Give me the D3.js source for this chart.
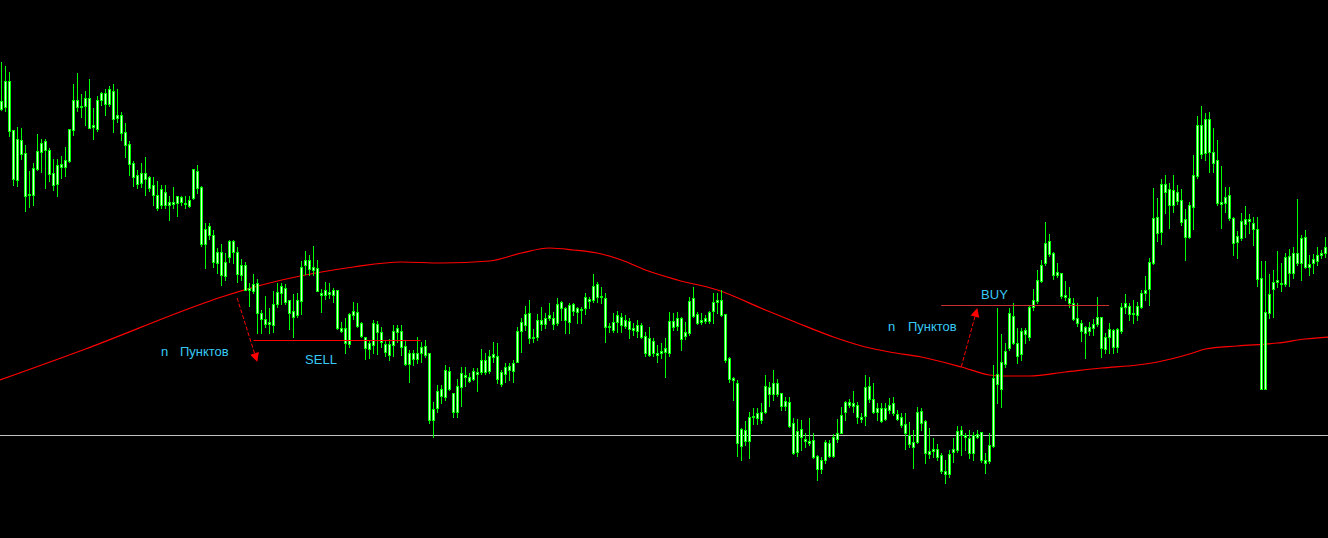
<!DOCTYPE html>
<html>
<head>
<meta charset="utf-8">
<script src="https://cdn.jsdelivr.net/npm/d3@7"></script>
<style>
html,body{margin:0;padding:0;background:#000;overflow:hidden}
svg{display:block}
</style>
</head>
<body>
<svg width="1328" height="538"></svg>
<script>
// candles, one per bar, prices in points
const opens = [
891,919,919,870,820,860,847,805,805,831, 848,859,850,815,816,833,833,839,870,900,
893,902,902,873,871,907,896,911,909,885, 885,868,856,837,816,817,827,823,815,792,
811,808,795,796,804,803,796,794,802,829, 813,756,774,765,748,748,724,743,759,748,
735,735,710,716,717,687,681,676,675,696, 714,712,700,683,685,699,740,740,733,732,
705,710,706,710,710,672,657,656,689,688, 677,663,651,655,676,668,656,645,655,672,
669,654,636,647,641,653,654,647,580,592, 604,603,629,588,588,613,625,619,621,626,
628,628,629,646,644,616,626,630,629,638, 669,686,687,662,663,676,676,685,676,677,
698,680,678,696,688,690,692,699,700,716, 704,702,673,670,685,683,680,679,670,675,
675,664,662,659,645,647,648,647,673,682, 682,664,667,702,686,678,679,679,689,698,
700,686,642,622,617,554,559,559,583,582, 580,588,606,617,617,607,599,598,577,548,
571,561,559,560,544,531,540,544,544,561, 567,588,598,597,595,581,584,614,601,592,
579,581,590,597,586,583,576,565,553,558, 589,579,546,551,551,545,526,526,548,550,
570,565,547,547,566,568,537,539,554,616, 611,636,652,684,644,646,666,663,693,699,
719,737,759,747,728,727,705,702,697,682, 677,667,669,672,683,683,651,671,653,653,
669,697,694,686,685,693,707,711,737,767, 768,816,811,795,808,800,763,763,793,824,
846,847,881,848,840,796,797,805,782,758, 762,776,781,777,771,722,611,687,711,720,
716,716,727,727,737,737,763,733,737,739, 745,747]
const highs = [
938,934,928,870,873,872,855,829,837,866, 861,861,852,841,841,844,853,871,916,927,
906,909,921,892,904,908,911,914,916,911, 888,877,859,839,830,837,843,824,823,819,
815,815,804,813,804,804,804,804,831,835, 814,777,777,770,752,756,747,760,760,753,
741,738,717,726,721,690,704,692,709,717, 717,716,700,706,707,739,749,745,754,740,
711,718,717,712,710,678,682,687,698,697, 678,663,659,680,679,673,660,661,675,675,
675,660,650,650,663,658,660,647,598,615, 615,635,633,607,621,633,633,627,632,632,
651,647,650,658,657,630,637,637,640,673, 682,694,700,671,686,693,687,697,688,702,
699,693,697,697,693,693,707,703,726,718, 713,707,677,687,689,687,685,682,677,680,
677,668,673,662,655,657,662,688,687,688, 683,678,703,713,688,687,685,689,707,707,
710,686,643,623,620,572,579,588,592,592, 597,625,618,630,621,607,603,603,582,581,
580,567,582,567,545,543,560,560,566,581, 593,599,601,609,598,587,625,623,617,597,
597,597,602,603,590,587,587,578,570,593, 592,580,572,562,556,547,540,550,562,574,
574,567,570,568,570,568,547,567,635,692, 666,657,692,697,672,672,672,695,711,730,
740,778,766,748,737,727,719,713,702,697, 680,674,678,681,703,683,667,677,671,672,
697,706,697,700,698,710,724,742,812,802, 821,825,817,825,815,811,791,798,845,884,
894,887,888,872,860,834,813,813,783,769, 787,794,786,783,783,739,739,726,730,749,
737,747,751,753,801,765,770,745,746,753, 750,763]
const lows = [
890,889,864,815,814,841,789,793,795,830, 828,812,819,810,804,822,824,838,865,889,
883,875,872,861,869,895,885,894,868,878, 860,843,825,814,812,813,805,809,795,790,
792,792,780,792,784,795,792,793,801,807, 754,732,761,733,727,715,720,738,737,718,
720,710,694,707,667,667,673,667,668,693, 696,696,671,663,683,686,726,725,725,709,
688,701,702,698,671,668,647,653,681,673, 663,641,642,647,646,653,644,640,644,658,
645,635,618,635,637,638,643,577,563,588, 597,600,610,583,583,594,614,618,620,609,
626,626,627,638,617,614,618,620,618,638, 648,670,657,658,660,670,672,680,671,675,
680,667,667,685,677,677,686,692,698,698, 697,658,668,668,668,668,672,662,665,663,
662,644,644,644,638,642,623,644,670,670, 650,661,665,683,676,676,677,677,677,687,
684,638,618,600,544,540,555,542,576,576, 577,587,594,600,604,590,590,573,546,544,
550,553,555,542,520,527,537,543,543,558, 567,580,593,588,577,578,575,598,587,580,
578,580,587,585,580,573,551,553,532,557, 570,537,542,543,540,527,517,523,538,548,
545,550,542,540,562,538,527,537,553,597, 593,633,650,656,637,640,657,660,690,697,
718,735,744,721,723,702,700,693,680,674, 659,642,665,665,674,643,647,647,647,648,
667,687,680,677,680,692,700,695,736,759, 756,787,772,788,796,775,740,762,771,822,
842,840,828,828,795,772,788,780,745,742, 760,763,767,755,714,611,611,682,683,713,
709,714,714,722,735,720,732,725,727,735, 742,743]
const closes = [
899,893,869,821,861,846,804,806,832,849, 857,850,826,827,835,836,840,871,900,893,
894,894,872,875,900,900,907,896,881,882, 867,855,836,823,825,827,821,812,805,805,
795,795,798,798,797,798,797,800,831,812, 756,771,765,738,737,725,738,759,748,726,
725,710,712,709,687,681,676,678,696,708, 707,698,687,689,700,733,735,731,730,709,
707,705,708,705,672,669,672,686,685,674, 664,652,657,677,668,658,648,656,669,668,
653,636,647,641,647,647,645,580,591,609, 611,630,611,607,614,627,623,623,629,628,
640,640,644,643,621,628,633,634,637,669, 678,675,662,663,680,680,682,682,682,696,
692,692,695,689,692,691,703,701,714,703, 703,673,674,678,678,675,674,671,672,669,
663,647,645,647,647,649,652,679,679,674, 661,668,699,684,677,680,682,688,698,700,
685,640,621,620,557,571,570,583,584,587, 588,614,613,606,606,594,594,574,547,569,
563,559,557,543,531,540,558,557,563,567, 585,598,595,594,583,583,613,601,588,588,
592,592,595,587,581,575,567,556,558,588, 577,547,549,549,543,529,529,546,551,569,
565,563,562,565,563,540,540,555,622,626, 638,649,687,657,657,669,670,693,700,720,
735,757,746,725,725,704,703,697,681,677, 669,673,673,676,676,652,663,663,670,671,
693,693,686,687,694,707,710,738,782,783, 816,808,795,810,799,778,781,795,825,875,
875,881,848,837,797,798,803,782,757,764, 779,781,779,771,721,611,688,706,718,718,
717,743,744,747,747,762,733,736,741,745, 747,753]

// moving average, read at some bars
const maBars = [-0.4,21,50,55,68,80,88,100,110,122,130,137,143,150,155,161,169,179,191,199,208,216,222,230,240,247,250,257,266,275,284,289,297,301,309,319,326,332]
const maValues = [620,651,696,703,718,728,733,738,737,739,747,752,750,746,740,730,720,710,690,677,663,653,648,643,633,625,624,624,628,632,635,638,646,651,654,657,661,663]

const levelPrice = 565
const sellLevel = {from: 63, to: 104.75, price: 660}
const buyLevel = {from: 234.9, to: 276.9, price: 695}
const arrows = [
	{from: [58.9, 702], to: [63.95, 638]},
	{from: [239.95, 633.3], to: [243.95, 692]}
]
const labels = [
	{text: "n", bar: 39.9, price: 644},
	{text: "Пунктов", bar: 44.6, price: 644},
	{text: "SELL", bar: 75.9, price: 636},
	{text: "n", bar: 221.6, price: 669.5},
	{text: "Пунктов", bar: 226.6, price: 669.5},
	{text: "BUY", bar: 244.9, price: 701.5}
]

const W = 1328, H = 538
const svg = d3.select("svg")
svg.append("rect").attr("width", W).attr("height", H).attr("fill", "#000")

const x = d3.scaleLinear().domain([0, 331]).range([1.5, 1325.5])
const y = d3.scaleLinear().domain([462, 1000]).range([H, 0])
const py = v => Math.round(y(v)) + 0.5

svg.append("line")
	.attr("x1", 0).attr("x2", W)
	.attr("y1", py(levelPrice)).attr("y2", py(levelPrice))
	.attr("stroke", "#c0c0c0").attr("stroke-width", 1)

const ma = maBars.map((b, i) => [b, maValues[i]])
svg.append("path")
	.datum(ma)
	.attr("fill", "none")
	.attr("stroke", "#ff0000")
	.attr("stroke-width", 1.2)
	.attr("d", d3.line().x(d => x(d[0])).y(d => y(d[1])).curve(d3.curveMonotoneX))

const bars = d3.range(opens.length).map(i => ({
	i, o: opens[i], h: highs[i], l: lows[i], c: closes[i]
}))

const g = svg.append("g").attr("shape-rendering", "crispEdges")
g.selectAll("line.wick")
	.data(bars)
	.join("line")
	  .attr("class", "wick")
	  .attr("x1", d => x(d.i)).attr("x2", d => x(d.i))
	  .attr("y1", d => Math.round(y(d.h)))
	  .attr("y2", d => Math.round(y(d.l)) + 1)
	  .attr("stroke", "#00ff00")

g.selectAll("rect.body")
	.data(bars)
	.join("rect")
	  .attr("class", "body")
	  .attr("x", d => x(d.i) - 1)
	  .attr("width", 2)
	  .attr("y", d => py(Math.max(d.o, d.c)))
	  .attr("height", d => Math.max(1, py(Math.min(d.o, d.c)) - py(Math.max(d.o, d.c))))
	  .attr("fill", "#d8ffd8")
	  .attr("stroke", "#00ff00")
	  .attr("stroke-width", 1)

svg.append("line")
	.attr("x1", x(sellLevel.from)).attr("x2", x(sellLevel.to))
	.attr("y1", py(sellLevel.price)).attr("y2", py(sellLevel.price))
	.attr("stroke", "#ff0000")
svg.append("line")
	.attr("x1", x(buyLevel.from)).attr("x2", x(buyLevel.to))
	.attr("y1", py(buyLevel.price)).attr("y2", py(buyLevel.price))
	.attr("stroke", "#c83030")

arrows.forEach(a => {
	let x0 = x(a.from[0]), y0 = y(a.from[1])
	let x1 = x(a.to[0]), y1 = y(a.to[1])
	let len = Math.hypot(x1 - x0, y1 - y0)
	let ux = (x1 - x0) / len, uy = (y1 - y0) / len
	let bx = x1 - ux * 9, by = y1 - uy * 9
	svg.append("line")
		.attr("x1", x0).attr("y1", y0)
		.attr("x2", bx).attr("y2", by)
		.attr("stroke", "#ff0000")
		.attr("stroke-width", 1)
		.attr("stroke-dasharray", "4,2")
	svg.append("path")
		.attr("d", d3.line()([[x1, y1], [bx - uy * 4.5, by + ux * 4.5], [bx + uy * 4.5, by - ux * 4.5]]) + "Z")
		.attr("fill", "#ff0000")
})

svg.selectAll("text.label")
	.data(labels)
	.join("text")
	  .attr("class", "label")
	  .attr("x", d => x(d.bar))
	  .attr("y", d => y(d.price))
	  .attr("font-family", "Liberation Sans, Arial, sans-serif")
	  .attr("font-size", 13)
	  .attr("fill", "#38c8f4")
	  .text(d => d.text)
</script>
</body>
</html>
